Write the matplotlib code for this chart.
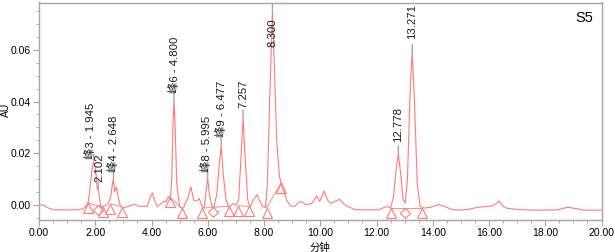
import numpy as np
import matplotlib
matplotlib.use("Agg")
import matplotlib.pyplot as plt
from matplotlib.ticker import MultipleLocator, FormatStrFormatter
import matplotlib.transforms as mtransforms

plt.rcParams["font.family"] = ["Liberation Sans", "Noto Sans CJK SC"]

# chromatogram trace (minutes, AU)
trace_t = [
    0.00, 0.15, 0.30, 0.50, 1.00, 1.40, 1.55, 1.65, 1.75, 1.83, 1.90, 1.945,
    2.02, 2.07, 2.102, 2.20, 2.30, 2.45, 2.55, 2.62, 2.648, 2.69, 2.75, 2.80,
    2.88, 2.95, 3.10, 3.40, 3.55, 3.85, 3.95, 4.03, 4.10, 4.20, 4.35, 4.45,
    4.52, 4.60, 4.67, 4.72, 4.77, 4.800, 4.84, 4.90, 5.00, 5.08, 5.15, 5.30,
    5.40, 5.50, 5.60, 5.70, 5.80, 5.87, 5.95, 5.995, 6.06, 6.15, 6.22, 6.32,
    6.42, 6.477, 6.55, 6.65, 6.75, 6.90, 7.00, 7.10, 7.18, 7.257, 7.33, 7.42,
    7.50, 7.62, 7.75, 7.85, 7.95, 8.05, 8.12, 8.20, 8.300, 8.38, 8.45, 8.55,
    8.65, 8.80, 8.95, 9.10, 9.25, 9.35, 9.48, 9.70, 9.88, 9.98, 10.14, 10.25,
    10.37, 10.55, 10.69, 10.85, 10.96, 11.20, 11.60, 12.10, 12.30, 12.40,
    12.50, 12.60, 12.70, 12.778, 12.86, 12.95, 13.02, 13.10, 13.20, 13.271,
    13.35, 13.45, 13.55, 13.70, 13.95, 14.20, 14.40, 14.70, 15.00, 15.30,
    15.60, 16.10, 16.25, 16.37, 16.50, 16.65, 17.00, 17.60, 18.40, 18.80,
    19.00, 19.40, 20.00,
]
trace_au = [
    0.0000, 0.0000, -0.0010, -0.0018, -0.0019, -0.0018, -0.0015, -0.0008,
    0.0010, 0.0080, 0.0150, 0.0165, 0.0130, 0.0060, 0.0065, -0.0010,
    -0.0005, 0.0005, 0.0030, 0.0090, 0.0097, 0.0050, 0.0070, 0.0040,
    0.0000, -0.0010, -0.0008, 0.0003, -0.0005, -0.0005, 0.0030, 0.0046,
    0.0020, -0.0005, 0.0005, 0.0015, 0.0012, 0.0033, 0.0020, 0.0100,
    0.0330, 0.0406, 0.0300, 0.0080, -0.0007, -0.0013, -0.0008, 0.0030,
    0.0071, 0.0019, 0.0015, 0.0025, -0.0005, -0.0013, 0.0060, 0.0105,
    0.0040, -0.0005, -0.0008, 0.0040, 0.0170, 0.0228, 0.0120, 0.0020,
    -0.0008, 0.0005, 0.0000, 0.0020, 0.0180, 0.0337, 0.0180, 0.0020,
    -0.0008, 0.0020, 0.0040, 0.0015, -0.0005, -0.0010, 0.0080, 0.0400,
    0.0745, 0.0500, 0.0250, 0.0110, 0.0070, 0.0020, -0.0005, -0.0005,
    0.0012, 0.0013, 0.0000, 0.0006, 0.0035, 0.0013, 0.0055, 0.0020,
    0.0006, 0.0015, 0.0022, 0.0003, -0.0004, -0.0017, -0.0019, -0.0018,
    -0.0008, -0.0006, -0.0012, 0.0030, 0.0140, 0.0198, 0.0120, 0.0020,
    0.0008, 0.0100, 0.0450, 0.0590, 0.0400, 0.0080, -0.0005, -0.0012,
    -0.0008, 0.0002, -0.0005, -0.0018, -0.0020, -0.0016, -0.0009, -0.0004,
    0.0005, 0.0015, -0.0005, -0.0013, -0.0017, -0.0020, -0.0019, -0.0009,
    -0.0012, -0.0020, -0.0020,
]

# integration baselines (start, end) and drop-line valleys
base_start_t = [1.73, 2.53, 4.66, 5.81, 7.06, 8.09, 12.50]
base_start_au = [0.0008, 0.0005, 0.0030, -0.0012, -0.0003, -0.0012, -0.0010]
base_end_t = [2.26, 2.94, 5.07, 6.74, 7.47, 8.60, 13.60]
base_end_au = [-0.0008, -0.0007, -0.0012, -0.0005, -0.0005, 0.0085, -0.0010]
valley_t = [2.08, 6.20, 13.01]
valley_au = [-0.0001, -0.0009, -0.0010]

# peak labels
label_t = [1.945, 2.102, 2.648, 4.800, 5.995, 6.477, 7.257, 8.300, 12.778, 13.271]
label_text = ["峰3 - 1.945", "2.102", "峰4 - 2.648", "峰6 - 4.800", "峰8 - 5.995",
              "峰9 - 6.477", "7.257", "8.300", "12.778", "13.271"]
# pixel offsets of each label from its apex
label_dx = [-3, 1, 0, 0, -1, 0, 0, 0, 0, 0]
label_dy = [3, 6, 8, 7, 6, 9, 10, -35, 12, 13]

red = "#ff7a7a"
gray = "#a6a6a6"

fig = plt.figure(figsize=(6.14, 2.52), dpi=100)
ax = fig.add_axes([39 / 614, 1 - 220 / 252, 562.5 / 614, 217.5 / 252])

ax.plot(trace_t, trace_au, color=red, lw=0.8)

for t0, a0, t1, a1 in zip(base_start_t, base_start_au, base_end_t, base_end_au):
    ax.plot([t0, t1], [a0, a1], color=red, lw=0.6)

# markers sit just below the baseline point
down = ax.transData + mtransforms.ScaledTranslation(0, -5 / 100, fig.dpi_scale_trans)
ax.plot(base_start_t + base_end_t, base_start_au + base_end_au, ls="none",
        marker="^", ms=7.5, mfc="none", mec=red, mew=0.8, transform=down)
ax.plot(valley_t, valley_au, ls="none", marker="D", ms=5, mfc="none",
        mec=red, mew=0.8, transform=down)

apex = np.interp(label_t, trace_t, trace_au)
for t, a, txt, dx, dy in zip(label_t, apex, label_text, label_dx, label_dy):
    ax.annotate("", xy=(t, a), xytext=(0, 8), textcoords="offset pixels",
                arrowprops=dict(arrowstyle="-", color=gray, lw=1,
                                shrinkA=0, shrinkB=0))
    ax.annotate(txt, xy=(t, a), xytext=(dx, dy), textcoords="offset pixels",
                rotation=90, ha="center", va="bottom", fontsize=8.2,
                color="#1a1a1a")

ax.text(0.986, 0.963, "S5", transform=ax.transAxes, ha="right", va="top",
        fontsize=10.5, color="black")

ax.set_xlim(0, 20)
ax.set_ylim(-0.0058, 0.0783)
ax.xaxis.set_major_locator(MultipleLocator(2))
ax.xaxis.set_minor_locator(MultipleLocator(0.5))
ax.yaxis.set_major_locator(MultipleLocator(0.02))
ax.yaxis.set_minor_locator(MultipleLocator(0.005))
ax.xaxis.set_major_formatter(FormatStrFormatter("%.2f"))
ax.yaxis.set_major_formatter(FormatStrFormatter("%.2f"))
ax.tick_params(which="major", length=4, color=gray, labelsize=7.5, pad=2)
ax.tick_params(which="minor", length=2.5, color=gray)
for sp in ax.spines.values():
    sp.set_color(gray)
    sp.set_linewidth(1)

ax.set_xlabel("分钟", fontsize=7.5, labelpad=3)
ax.set_ylabel("AU", fontsize=7.5)
ax.yaxis.set_label_coords(-0.05, 0.506)

fig.savefig("out.png", dpi=100)
